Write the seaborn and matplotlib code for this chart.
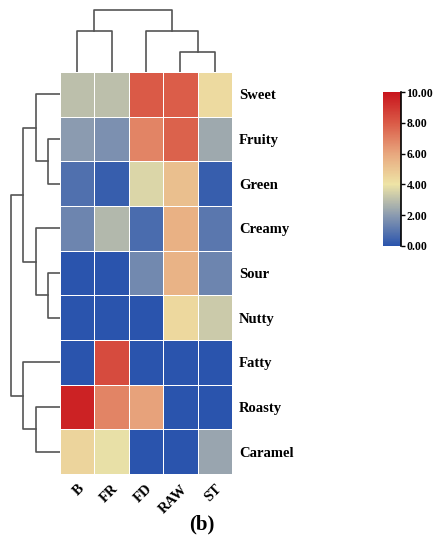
import numpy as np
import pandas as pd
import matplotlib
matplotlib.use("Agg")
import matplotlib.pyplot as plt
import seaborn as sns
from matplotlib.colors import LinearSegmentedColormap

# data, in clustered display order
samples = ["B", "FR", "FD", "RAW", "ST"]
attributes = ["Sweet", "Fruity", "Green", "Creamy", "Sour", "Nutty", "Fatty", "Roasty", "Caramel"]
sweet = [3.0, 3.0, 8.0, 7.9, 4.3]
fruity = [2.0, 1.7, 6.9, 7.8, 2.4]
green = [0.8, 0.3, 3.6, 5.2, 0.3]
creamy = [1.4, 2.8, 0.7, 5.7, 1.0]
sour = [0.0, 0.0, 1.5, 5.6, 1.4]
nutty = [0.0, 0.0, 0.0, 4.4, 3.3]
fatty = [0.0, 8.4, 0.0, 0.0, 0.0]
roasty = [9.6, 6.9, 6.1, 0.0, 0.0]
caramel = [4.5, 3.9, 0.0, 0.0, 2.3]

# linkage (left index, right index, height), scipy style numbering
row_links = [(1, 2, 1.0), (4, 5, 1.0), (7, 8, 2.0), (0, 9, 2.0), (3, 10, 2.0),
             (12, 13, 3.1), (6, 11, 3.1), (14, 15, 4.1)]
col_links = [(3, 4, 1.0), (0, 1, 2.05), (2, 5, 2.05), (6, 7, 3.1)]

df = pd.DataFrame([sweet, fruity, green, creamy, sour, nutty, fatty, roasty, caramel],
                  index=attributes, columns=samples)

cmap = LinearSegmentedColormap.from_list(
    "flav", [(0.0, "#2a54ad"), (0.2, "#8b9bb0"), (0.4, "#eee4a6"),
             (0.6, "#e8a77e"), (0.8, "#da5a47"), (1.0, "#c8141c")])

serif = ["Liberation Serif", "DejaVu Serif"]
plt.rcParams["font.family"] = serif
plt.rcParams["font.weight"] = "bold"

W, H = 436, 538
fig = plt.figure(figsize=(W / 100, H / 100), dpi=100)


def box(x0, y0, x1, y1):
    return [x0 / W, 1 - y1 / H, (x1 - x0) / W, (y1 - y0) / H]


ax = fig.add_axes(box(60, 72, 232, 474))
cax = fig.add_axes(box(383, 92, 401, 246))
ax_row = fig.add_axes(box(0, 72, 60, 474))
ax_col = fig.add_axes(box(60, 0, 232, 72))

sns.heatmap(df, ax=ax, cmap=cmap, vmin=0, vmax=10, linewidths=0.5, linecolor="white",
            cbar_ax=cax, cbar_kws={"ticks": [0, 2, 4, 6, 8, 10], "format": "%.2f"})

ax.yaxis.tick_right()
ax.set_yticklabels(attributes, rotation=0, fontsize=10.5, fontweight="bold")
ax.set_xticklabels(samples, rotation=45, ha="right", rotation_mode="anchor",
                   fontsize=10.5, fontweight="bold")
ax.tick_params(axis="both", length=0)
ax.tick_params(axis="y", pad=5)
ax.tick_params(axis="x", pad=6)
ax.set_xlabel("")
ax.set_ylabel("")

cax.tick_params(length=3, width=1, labelsize=8.5, pad=1)
for t in cax.get_yticklabels():
    t.set_fontweight("bold")
cbar = ax.collections[0].colorbar
cbar.outline.set_visible(False)
cax.plot([1, 1], [0, 1], transform=cax.transAxes, color="black", lw=1.2, clip_on=False)


def draw_dendro(axis, links, n, vertical):
    pos = {i: i + 0.5 for i in range(n)}
    hgt = {i: 0.0 for i in range(n)}
    for k, (a, b, h) in enumerate(links):
        pa, pb = pos[a], pos[b]
        xs = [pa, pa, pb, pb]
        ys = [hgt[a], h, h, hgt[b]]
        if vertical:
            axis.plot(xs, ys, color="#555555", lw=1.2)
        else:
            axis.plot(ys, xs, color="#555555", lw=1.2)
        pos[n + k] = (pa + pb) / 2
        hgt[n + k] = h


draw_dendro(ax_col, col_links, len(samples), vertical=True)
ax_col.set_xlim(0, len(samples))
ax_col.set_ylim(0, 3.6)
ax_col.axis("off")

draw_dendro(ax_row, row_links, len(attributes), vertical=False)
ax_row.set_ylim(len(attributes), 0)
ax_row.set_xlim(5.0, 0)
ax_row.axis("off")

fig.text(202 / W, 1 - 524 / H, "(b)", ha="center", va="center", fontsize=15, fontweight="bold")

fig.savefig("out.png", dpi=100)
